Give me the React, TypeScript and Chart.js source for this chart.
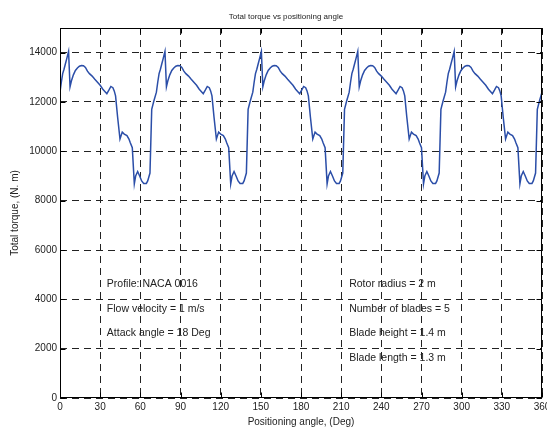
import { useEffect, useRef } from 'react';
import { Chart, registerables } from 'chart.js';

Chart.register(...registerables);

// Positioning angle (deg)
const angles = [
  0, 1, 2, 3, 4, 5, 6.4, 7.5, 8.5, 10, 11.5, 13, 14.5, 16, 17.5, 19, 20.5, 22, 24, 26, 28, 30, 32, 34, 35, 36.5, 38, 39.5, 40.5, 41.5, 43, 44.8, 46.5, 48, 50, 51.5, 52.5, 54, 55.5, 56.5, 58, 59.5, 61, 62.5, 64.5, 65.5, 67.2, 68.5, 70,
  72, 73, 74, 75, 76, 77, 78.4, 79.5, 80.5, 82, 83.5, 85, 86.5, 88, 89.5, 91, 92.5, 94, 96, 98, 100, 102, 104, 106, 107, 108.5, 110, 111.5, 112.5, 113.5, 115, 116.8, 118.5, 120, 122, 123.5, 124.5, 126, 127.5, 128.5, 130, 131.5, 133, 134.5, 136.5, 137.5, 139.2, 140.5, 142,
  144, 145, 146, 147, 148, 149, 150.4, 151.5, 152.5, 154, 155.5, 157, 158.5, 160, 161.5, 163, 164.5, 166, 168, 170, 172, 174, 176, 178, 179, 180.5, 182, 183.5, 184.5, 185.5, 187, 188.8, 190.5, 192, 194, 195.5, 196.5, 198, 199.5, 200.5, 202, 203.5, 205, 206.5, 208.5, 209.5, 211.2, 212.5, 214,
  216, 217, 218, 219, 220, 221, 222.4, 223.5, 224.5, 226, 227.5, 229, 230.5, 232, 233.5, 235, 236.5, 238, 240, 242, 244, 246, 248, 250, 251, 252.5, 254, 255.5, 256.5, 257.5, 259, 260.8, 262.5, 264, 266, 267.5, 268.5, 270, 271.5, 272.5, 274, 275.5, 277, 278.5, 280.5, 281.5, 283.2, 284.5, 286,
  288, 289, 290, 291, 292, 293, 294.4, 295.5, 296.5, 298, 299.5, 301, 302.5, 304, 305.5, 307, 308.5, 310, 312, 314, 316, 318, 320, 322, 323, 324.5, 326, 327.5, 328.5, 329.5, 331, 332.8, 334.5, 336, 338, 339.5, 340.5, 342, 343.5, 344.5, 346, 347.5, 349, 350.5, 352.5, 353.5, 355.2, 356.5, 358,
  360,
];

// Total torque (N.m)
const torque = [
  12400, 12800, 13150, 13330, 13540, 13750, 14050, 12620, 12850, 13100, 13280, 13380, 13450, 13480, 13470, 13400, 13250, 13150, 13050, 12920, 12800, 12680, 12520, 12400, 12340, 12480, 12630, 12580, 12450, 12250, 11400, 10500, 10780, 10700, 10640, 10500, 10350, 10150, 8680, 9000, 9180, 9000, 8800, 8700, 8700, 8800, 9120, 11700, 12020,
  12400, 12800, 13150, 13330, 13540, 13750, 14050, 12620, 12850, 13100, 13280, 13380, 13450, 13480, 13470, 13400, 13250, 13150, 13050, 12920, 12800, 12680, 12520, 12400, 12340, 12480, 12630, 12580, 12450, 12250, 11400, 10500, 10780, 10700, 10640, 10500, 10350, 10150, 8680, 9000, 9180, 9000, 8800, 8700, 8700, 8800, 9120, 11700, 12020,
  12400, 12800, 13150, 13330, 13540, 13750, 14050, 12620, 12850, 13100, 13280, 13380, 13450, 13480, 13470, 13400, 13250, 13150, 13050, 12920, 12800, 12680, 12520, 12400, 12340, 12480, 12630, 12580, 12450, 12250, 11400, 10500, 10780, 10700, 10640, 10500, 10350, 10150, 8680, 9000, 9180, 9000, 8800, 8700, 8700, 8800, 9120, 11700, 12020,
  12400, 12800, 13150, 13330, 13540, 13750, 14050, 12620, 12850, 13100, 13280, 13380, 13450, 13480, 13470, 13400, 13250, 13150, 13050, 12920, 12800, 12680, 12520, 12400, 12340, 12480, 12630, 12580, 12450, 12250, 11400, 10500, 10780, 10700, 10640, 10500, 10350, 10150, 8680, 9000, 9180, 9000, 8800, 8700, 8700, 8800, 9120, 11700, 12020,
  12400, 12800, 13150, 13330, 13540, 13750, 14050, 12620, 12850, 13100, 13280, 13380, 13450, 13480, 13470, 13400, 13250, 13150, 13050, 12920, 12800, 12680, 12520, 12400, 12340, 12480, 12630, 12580, 12450, 12250, 11400, 10500, 10780, 10700, 10640, 10500, 10350, 10150, 8680, 9000, 9180, 9000, 8800, 8700, 8700, 8800, 9120, 11700, 12020,
  12400,
];

const xTicks = [0, 30, 60, 90, 120, 150, 180, 210, 240, 270, 300, 330, 360];
const yTicks = [0, 2000, 4000, 6000, 8000, 10000, 12000, 14000];

const titleText = 'Total torque vs positioning angle';
const xTitle = 'Positioning angle, (Deg)';
const yTitle = 'Total torque, (N. m)';

const notesLeft = ['Profile: NACA 0016', 'Flow velocity = 1 m/s', 'Attack angle = 18 Deg'];
const notesRight = ['Rotor radius = 2 m', 'Number of blades = 5', 'Blade height = 1.4 m', 'Blade length = 1.3 m'];
const noteRowsY = [4600, 3620, 2640, 1600];
const NOTE_LEFT_X = 35;
const NOTE_RIGHT_X = 216;

const FONT = '"Liberation Sans", Arial, Helvetica, sans-serif';
const TEXT = '#222';

export default function App() {
  const ref = useRef<HTMLCanvasElement | null>(null);

  useEffect(() => {
    document.body.style.margin = '0';
    const canvas = ref.current;
    if (!canvas) return;

    const overlay = {
      id: 'overlay',
      afterDraw(chart: any) {
        const { ctx, chartArea: a, scales } = chart;
        const xs = scales.x;
        const ys = scales.y;
        ctx.save();
        // frame
        ctx.strokeStyle = '#000';
        ctx.lineWidth = 1;
        ctx.setLineDash([]);
        const L = Math.round(a.left) + 0.5;
        const R = Math.round(a.right) - 0.5;
        const T = Math.round(a.top) + 0.5;
        const B = Math.round(a.bottom) - 0.5;
        ctx.strokeRect(L, T, R - L, B - T);
        // inner tick marks
        ctx.beginPath();
        xTicks.forEach((v) => {
          const px = Math.round(xs.getPixelForValue(v)) + 0.5;
          ctx.moveTo(px, B);
          ctx.lineTo(px, B - 5);
          ctx.moveTo(px, T);
          ctx.lineTo(px, T + 5);
        });
        yTicks.forEach((v) => {
          const py = Math.round(ys.getPixelForValue(v)) + 0.5;
          ctx.moveTo(L, py);
          ctx.lineTo(L + 5, py);
          ctx.moveTo(R, py);
          ctx.lineTo(R - 5, py);
        });
        ctx.stroke();
        // title
        ctx.fillStyle = TEXT;
        ctx.font = `8px ${FONT}`;
        ctx.textAlign = 'center';
        ctx.textBaseline = 'middle';
        ctx.fillText(titleText, 286, 17);
        // annotations
        ctx.font = `10.5px ${FONT}`;
        ctx.textAlign = 'left';
        notesLeft.forEach((t, i) => {
          ctx.fillText(t, xs.getPixelForValue(NOTE_LEFT_X), ys.getPixelForValue(noteRowsY[i]));
        });
        notesRight.forEach((t, i) => {
          ctx.fillText(t, xs.getPixelForValue(NOTE_RIGHT_X), ys.getPixelForValue(noteRowsY[i]));
        });
        ctx.restore();
      },
    };

    const chart = new Chart(canvas, {
      type: 'line',
      data: {
        datasets: [
          {
            data: angles.map((x, i) => ({ x, y: torque[i] })),
            borderColor: '#2b4ea8',
            borderWidth: 1.5,
            pointRadius: 0,
            tension: 0,
            fill: false,
          },
        ],
      },
      options: {
        responsive: false,
        animation: false,
        devicePixelRatio: 1,
        layout: { padding: { top: 28, right: 5, left: 0, bottom: 0 } },
        plugins: { legend: { display: false }, tooltip: { enabled: false }, title: { display: false } },
        scales: {
          x: {
            type: 'linear',
            min: 0,
            max: 360,
            afterBuildTicks: (s: any) => {
              s.ticks = xTicks.map((v) => ({ value: v }));
            },
            afterFit: (s: any) => {
              s.height = 30;
              s.paddingLeft = 0;
              s.paddingRight = 0;
            },
            ticks: {
              autoSkip: false,
              maxRotation: 0,
              padding: 3,
              color: TEXT,
              font: { family: FONT, size: 10 },
              callback: (v: any) => String(v),
            },
            grid: { color: '#222', lineWidth: 1, drawTicks: false },
            border: { display: false, dash: [7, 5] },
            title: { display: true, text: xTitle, color: TEXT, font: { family: FONT, size: 10 }, padding: { top: 0, bottom: 0 } },
          },
          y: {
            type: 'linear',
            min: 0,
            max: 15000,
            afterBuildTicks: (s: any) => {
              s.ticks = yTicks.map((v) => ({ value: v }));
            },
            afterFit: (s: any) => {
              s.width = 60;
              s.paddingTop = 0;
              s.paddingBottom = 0;
            },
            ticks: {
              autoSkip: false,
              padding: 3,
              color: TEXT,
              font: { family: FONT, size: 10 },
              callback: (v: any) => String(v),
            },
            grid: { color: '#222', lineWidth: 1, drawTicks: false },
            border: { display: false, dash: [7, 5] },
            title: { display: true, text: yTitle, color: TEXT, font: { family: FONT, size: 10 }, padding: { top: 9, bottom: 0 } },
          },
        },
      },
      plugins: [overlay],
    });

    return () => chart.destroy();
  }, []);

  return (
    <div style={{ position: 'absolute', left: 0, top: 0, width: 547, height: 428, background: '#fff' }}>
      <canvas ref={ref} width={547} height={428} style={{ width: 547, height: 428, display: 'block' }} />
    </div>
  );
}
